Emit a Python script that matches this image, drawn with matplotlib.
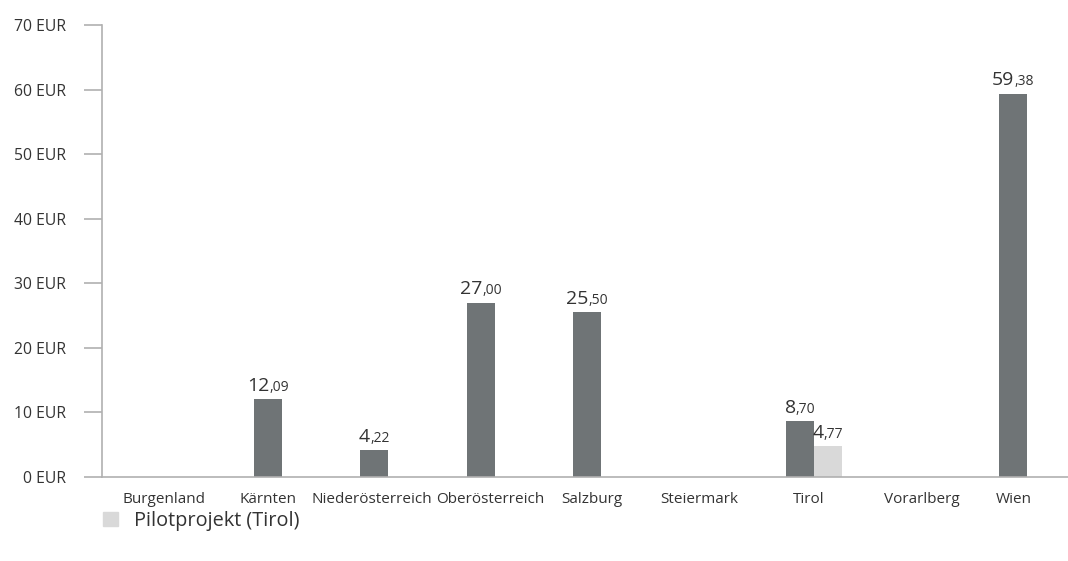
import matplotlib
matplotlib.use('Agg')
from matplotlib import pyplot as plt
from matplotlib.patches import Patch
from matplotlib.offsetbox import TextArea, HPacker, AnnotationBbox
from matplotlib.transforms import ScaledTranslation

plt.rcParams['font.family'] = ['Open Sans', 'DejaVu Sans']

regions = ['Burgenland', 'Kärnten', 'Niederösterreich', 'Oberösterreich',
           'Salzburg', 'Steiermark', 'Tirol', 'Vorarlberg', 'Wien']
main_vals = [None, 12.09, 4.22, 27.00, 25.50, None, 8.70, None, 59.38]
pilot_vals = [None, None, None, None, None, None, 4.77, None, None]
y_ticks = [0, 10, 20, 30, 40, 50, 60, 70]

# small horizontal nudges (pixels) of the category labels, as in the original
label_nudge = [2, 0, -3, 10, 5, 6, 9, 16, 1]

dark = '#6f7476'
light = '#d9d9d9'
axis_col = '#b0b0b0'
text_col = '#333333'
bw = 0.263

fig = plt.figure(figsize=(10.68, 5.61), dpi=100)
ax = fig.add_axes([102/1068, 84/561, 966/1068, 452/561])

def value_label(x, v):
    whole, dec = f'{v:.2f}'.split('.')
    parts = HPacker(children=[
        TextArea(whole, textprops=dict(fontsize=14, color=text_col)),
        TextArea(',' + dec, textprops=dict(fontsize=10, color=text_col)),
    ], pad=0, sep=0, align='baseline')
    ab = AnnotationBbox(parts, (x, v), xybox=(0, 3), xycoords='data',
                        boxcoords='offset points', box_alignment=(0.5, 0),
                        frameon=False, pad=0)
    ax.add_artist(ab)

for i, v in enumerate(main_vals):
    if v is not None:
        ax.bar(i, v, width=bw, color=dark)
        value_label(i, v)
for i, v in enumerate(pilot_vals):
    if v is not None:
        ax.bar(i + bw, v, width=bw, color=light)
        value_label(i + bw, v)

ax.set_xlim(-0.56, 8.52)
ax.set_ylim(0, 70)
ax.set_yticks(y_ticks)
ax.set_yticklabels([f'{t} EUR' for t in y_ticks])
ax.set_xticks(range(len(regions)))
ax.set_xticklabels(regions)

for s in ['top', 'right']:
    ax.spines[s].set_visible(False)
for s in ['left', 'bottom']:
    ax.spines[s].set_color(axis_col)
    ax.spines[s].set_linewidth(1.2)
ax.tick_params(axis='y', length=13, width=1.2, color=axis_col, pad=13,
               labelsize=11.3, labelcolor=text_col)
ax.tick_params(axis='x', length=0, pad=11, labelsize=11, labelcolor=text_col)

for lab, dx in zip(ax.get_xticklabels(), label_nudge):
    lab.set_transform(lab.get_transform() + ScaledTranslation(dx / 100, 0, fig.dpi_scale_trans))

fig.legend(handles=[Patch(color=light, label='Pilotprojekt (Tirol)')],
           loc='upper left', bbox_to_anchor=(93/1068, 1 - 501/561),
           frameon=False, fontsize=14.3, handlelength=0.75, handleheight=0.75,
           handletextpad=0.8, borderpad=0, labelcolor=text_col)

fig.savefig('out.png', dpi=100)
